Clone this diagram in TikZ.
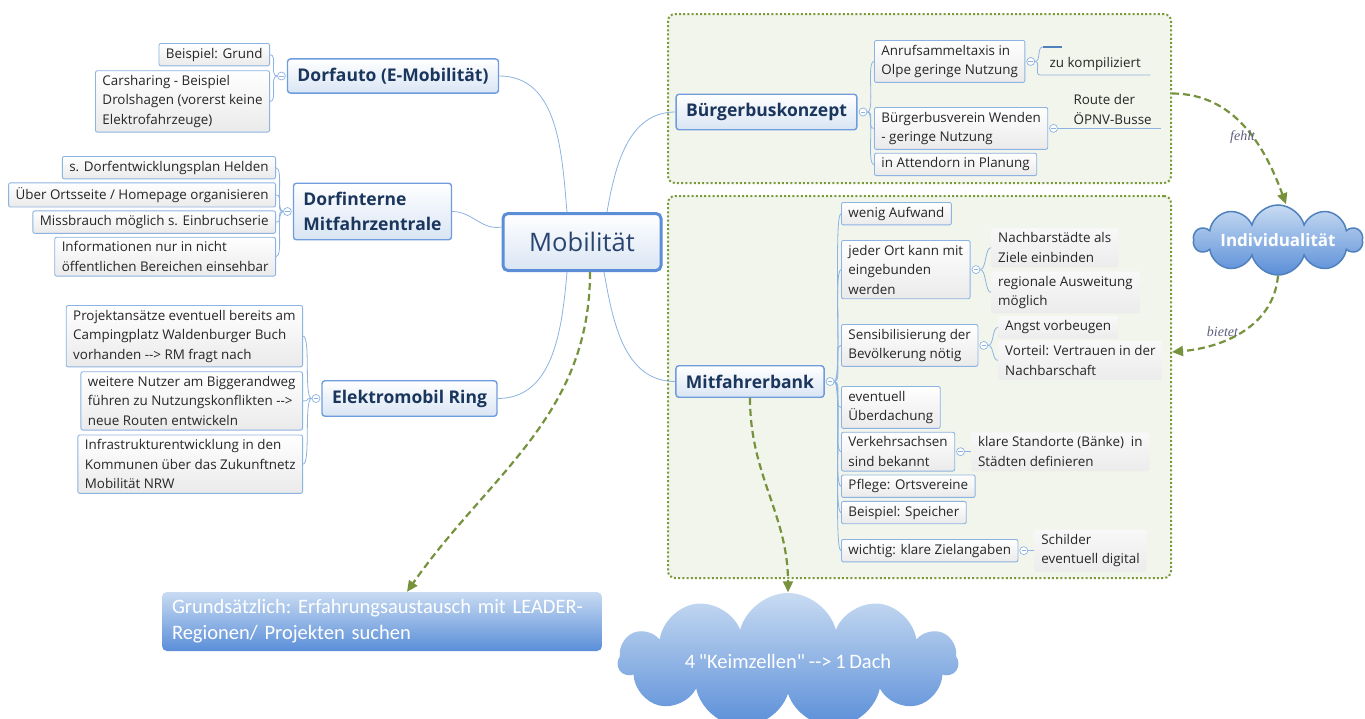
\documentclass[tikz,border=0pt]{standalone}
\usepackage{fontspec}
\setmainfont{Open Sans}
\newfontfamily\narrowfont[WordSpace=0.8]{Carlito}
\newfontfamily\notefont{Liberation Serif}
\usetikzlibrary{positioning, arrows.meta, shapes.symbols}

\definecolor{rootblue}{HTML}{5B8ED6}
\definecolor{roottext}{HTML}{2A4470}
\definecolor{topicblue}{HTML}{6E9CDC}
\definecolor{topictext}{HTML}{1B365D}
\definecolor{topicshade}{HTML}{D9E5F4}
\definecolor{leafblue}{HTML}{8DB3E2}
\definecolor{leafshade}{HTML}{EAEAEA}
\definecolor{leaftext}{HTML}{262626}
\definecolor{detailtop}{HTML}{F8F8F8}
\definecolor{detailbottom}{HTML}{ECECEC}
\definecolor{stubblue}{HTML}{4F81BD}
\definecolor{zonegreen}{HTML}{7A9A3A}
\definecolor{zonefill}{HTML}{F2F5EB}
\definecolor{arrowgreen}{HTML}{76923C}
\definecolor{skytop}{HTML}{C8DBF2}
\definecolor{skybottom}{HTML}{5A8ED8}
\definecolor{cloudline}{HTML}{4F81BD}
\definecolor{notegray}{HTML}{5E5E7E}

\begin{document}
\begin{tikzpicture}[
    x=1pt, y=-1pt,
    root/.style={rectangle, rounded corners=5pt, draw=rootblue, line width=3pt, top color=white, bottom color=topicshade, text=roottext, font=\fontsize{25.5}{30}\selectfont, minimum width=158pt, minimum height=57pt},
    topic/.style={rectangle, rounded corners=3pt, draw=topicblue, line width=1.4pt, top color=white, bottom color=topicshade, text=topictext, align=left, font=\fontsize{17.5}{25}\selectfont\bfseries, inner xsep=10pt, inner ysep=9pt},
    leaf/.style={rectangle, rounded corners=2pt, draw=leafblue, line width=0.9pt, top color=white, bottom color=leafshade, text=leaftext, align=left, font=\fontsize{13.4}{19.5}\selectfont, inner xsep=7pt, inner ysep=4.5pt},
    detail/.style={rectangle, rounded corners=2pt, top color=detailtop, bottom color=detailbottom, text=leaftext, align=left, font=\fontsize{13.4}{19.5}\selectfont, inner xsep=7pt, inner ysep=4.5pt},
    bare/.style={rectangle, text=leaftext, align=left, font=\fontsize{13.4}{19.5}\selectfont, inner xsep=9.5pt, inner ysep=4pt},
    stub/.style={rectangle, fill=stubblue, inner sep=0pt, minimum width=19pt, minimum height=2.5pt},
    knob/.style={circle, draw=leafblue, fill=white, line width=0.7pt, inner sep=0pt, minimum size=8pt,
        path picture={\draw[leafblue, line width=0.7pt] ([xshift=1.8pt]path picture bounding box.west) -- ([xshift=-1.8pt]path picture bounding box.east);}},
    zone/.style={rectangle, rounded corners=7pt, draw=zonegreen, line width=2pt, dash pattern=on 2pt off 2.2pt, fill=zonefill},
    cloudy/.style={cloud, cloud puffs=13, cloud ignores aspect, draw=cloudline, line width=1.5pt, top color=skytop, bottom color=skybottom, text=white, inner sep=0pt},
    banner/.style={rectangle, rounded corners=5pt, top color=skytop, bottom color=skybottom, text=white, align=left, font=\narrowfont\fontsize{20.5}{26}\selectfont\frenchspacing, text width=420pt, inner xsep=10pt, minimum height=59pt},
    branch/.style={draw=leafblue, line width=0.8pt},
    link/.style={draw=arrowgreen, line width=2.2pt, dash pattern=on 7pt off 4pt, -{Triangle[length=11pt, width=10pt]}},
    tag/.style={font=\notefont\itshape\fontsize{14}{16}\selectfont, text=notegray},
]
\path[use as bounding box, fill=white] (0,0) rectangle (1365,718);

%% NODES
    % green zones behind the right-hand branches
    \node[zone, minimum width=503pt, minimum height=169pt] (bus_zone) at (919.5,98.5) {};
    \node[zone, minimum width=503pt, minimum height=382pt] (bank_zone) at (919.5,387) {};

    % central topic
    \node[root] (mobil) at (582,242) {Mobilität};

    % Dorfauto
    \node[topic] (dorfauto) at (393,76) {Dorfauto (E-Mobilität)};
    \node[knob, left=1pt of dorfauto] (dorfauto_knob) {};
    \node[leaf, anchor=north east] (grund) at (270,43) {Beispiel: Grund};
    \node[leaf, below left=4pt and 0pt of grund.south east] (carsharing) {Carsharing - Beispiel\\Drolshagen (vorerst keine\\Elektrofahrzeuge)};

    % Dorfinterne Mitfahrzentrale
    \node[topic] (dorfintern) at (372.5,211.5) {Dorfinterne\\Mitfahrzentrale};
    \node[knob, left=1pt of dorfintern] (dorfintern_knob) {};
    \node[leaf, anchor=north east] (helden) at (276,156) {s. Dorfentwicklungsplan Helden};
    \node[leaf, below left=3pt and 0pt of helden.south east] (ortsseite) {Über Ortsseite / Homepage organisieren};
    \node[leaf, below left=3pt and 0pt of ortsseite.south east] (missbrauch) {Missbrauch möglich s. Einbruchserie};
    \node[leaf, below left=3pt and 0pt of missbrauch.south east] (bereiche) {Informationen nur in nicht\\öffentlichen Bereichen einsehbar};

    % Elektromobil Ring
    \node[topic] (ring) at (409.5,398.5) {Elektromobil Ring};
    \node[knob, left=1pt of ring] (ring_knob) {};
    \node[leaf, anchor=north east] (camping) at (303,305) {Projektansätze eventuell bereits am\\Campingplatz Waldenburger Buch\\vorhanden -{}-> RM fragt nach};
    \node[leaf, below left=4pt and 0pt of camping.south east] (biggerandweg) {weitere Nutzer am Biggerandweg\\führen zu Nutzungskonflikten -{}->\\neue Routen entwickeln};
    \node[leaf, below left=4pt and 0pt of biggerandweg.south east] (zukunftsnetz) {Infrastrukturentwicklung in den\\Kommunen über das Zukunftnetz\\Mobilität NRW};

    % Bürgerbuskonzept
    \node[topic] (buergerbus) at (766.5,112) {Bürgerbuskonzept};
    \node[knob, right=1pt of buergerbus] (buergerbus_knob) {};
    \node[leaf, anchor=north west] (anrufsammel) at (874,40) {Anrufsammeltaxis in\\Olpe geringe Nutzung};
    \node[knob, right=1pt of anrufsammel] (anrufsammel_knob) {};
    \node[stub] (leer) at (1052.5,47) {};
    \node[bare, anchor=south west] (kompliziert) at (1040,75) {zu kompiliziert};
    \node[leaf, anchor=north west] (wenden) at (874,107) {Bürgerbusverein Wenden\\- geringe Nutzung};
    \node[knob, right=1pt of wenden] (wenden_knob) {};
    \node[bare, right=6pt of wenden_knob, anchor=south west] (route) {Route der\\ÖPNV-Busse};
    \node[leaf, below right=3pt and 0pt of wenden.south west] (attendorn) {in Attendorn in Planung};

    % Mitfahrerbank
    \node[topic] (bank) at (750,381.5) {Mitfahrerbank};
    \node[knob, right=1pt of bank] (bank_knob) {};
    \node[leaf, anchor=north west] (aufwand) at (841,202) {wenig Aufwand};
    \node[leaf, anchor=north west] (jeder_ort) at (841,240) {jeder Ort kann mit\\eingebunden\\werden};
    \node[knob, right=1pt of jeder_ort] (jeder_ort_knob) {};
    \node[detail, anchor=north west] (nachbarstaedte) at (991,228) {Nachbarstädte als\\Ziele einbinden};
    \node[detail, below right=4pt and 0pt of nachbarstaedte.south west] (ausweitung) {regionale Ausweitung\\möglich};
    \node[leaf, anchor=north west] (sensibilisierung) at (841,324) {Sensibilisierung der\\Bevölkerung nötig};
    \node[knob, right=1pt of sensibilisierung] (sensibilisierung_knob) {};
    \node[detail, anchor=north west] (angst) at (998,316) {Angst vorbeugen};
    \node[detail, below right=2pt and 0pt of angst.south west] (vertrauen) {Vorteil: Vertrauen in der\\Nachbarschaft};
    \node[leaf, anchor=north west] (ueberdachung) at (841,386) {eventuell\\Überdachung};
    \node[leaf, below right=3pt and 0pt of ueberdachung.south west] (verkehrsachsen) {Verkehrsachsen\\sind bekannt};
    \node[knob, right=1pt of verkehrsachsen] (verkehrsachsen_knob) {};
    \node[detail, right=6pt of verkehrsachsen_knob] (standorte) {klare Standorte (Bänke)\ \ in\\Städten definieren};
    \node[leaf, below right=3pt and 0pt of verkehrsachsen.south west] (pflege) {Pflege: Ortsvereine};
    \node[leaf, below right=3pt and 0pt of pflege.south west] (speicher) {Beispiel: Speicher};
    \node[leaf, anchor=north west] (zielangaben) at (841,539) {wichtig: klare Zielangaben};
    \node[knob, right=1pt of zielangaben] (zielangaben_knob) {};
    \node[detail, right=6pt of zielangaben_knob] (schilder) {Schilder\\eventuell digital};

    % floating topics
    \node[cloudy, cloud puffs=10, font=\fontsize{17}{20}\selectfont\bfseries, minimum width=168pt, minimum height=70pt] (individ) at (1278,240) {Individualität};
    \node[cloudy, draw=none, cloud puffs=11, font=\narrowfont\fontsize{20.5}{22}\selectfont, minimum width=340pt, minimum height=136pt] (keimzellen) at (788,661) {4 "Keimzellen" -{}-> 1 Dach};
    \node[banner] (grundsatz) at (382,621.5) {Grundsätzlich: Erfahrungsaustausch mit LEADER-\\Regionen/ Projekten suchen};


%% CONNECTIONS
    % Mobilität -> main topics
    \draw[branch] ([xshift=-15pt]mobil.north) to[out=95, in=0] (dorfauto.east);
    \draw[branch] (dorfintern.east) to[out=0, in=190] ([yshift=15pt]mobil.west);
    \draw[branch] ([xshift=-15pt]mobil.south) to[out=-95, in=0] (ring.east);
    \draw[branch] ([xshift=25pt]mobil.north) to[out=80, in=180] (buergerbus.west);
    \draw[branch] ([xshift=22pt]mobil.south) to[out=-80, in=180] (bank.west);

    % left-hand brackets
    \draw[branch] (dorfauto_knob.west) .. controls +(-8,0) and +(8,0) .. (grund.east);
    \draw[branch] (dorfauto_knob.west) .. controls +(-8,0) and +(8,0) .. (carsharing.east);
    \draw[branch] (dorfintern_knob.west) .. controls +(-8,0) and +(8,0) .. (helden.east);
    \draw[branch] (dorfintern_knob.west) .. controls +(-8,0) and +(8,0) .. (ortsseite.east);
    \draw[branch] (dorfintern_knob.west) .. controls +(-8,0) and +(8,0) .. (missbrauch.east);
    \draw[branch] (dorfintern_knob.west) .. controls +(-8,0) and +(8,0) .. (bereiche.east);
    \draw[branch] (ring_knob.west) .. controls +(-8,0) and +(8,0) .. (camping.east);
    \draw[branch] (ring_knob.west) .. controls +(-8,0) and +(8,0) .. (biggerandweg.east);
    \draw[branch] (ring_knob.west) .. controls +(-8,0) and +(8,0) .. (zukunftsnetz.east);

    % Bürgerbuskonzept brackets
    \draw[branch] (buergerbus_knob.east) .. controls +(8,0) and +(-8,0) .. (anrufsammel.west);
    \draw[branch] (buergerbus_knob.east) .. controls +(8,0) and +(-8,0) .. (wenden.west);
    \draw[branch] (buergerbus_knob.east) .. controls +(8,0) and +(-8,0) .. (attendorn.west);
    \draw[branch] (anrufsammel_knob.east) .. controls +(6,0) and +(-6,0) .. (leer.west);
    \draw[branch] (anrufsammel_knob.east) .. controls +(6,0) and +(-6,0) .. (kompliziert.south west) -- (kompliziert.south east);
    \draw[branch] (wenden_knob.east) -- (route.south east);

    % Mitfahrerbank brackets
    \draw[branch] (bank_knob.east) .. controls +(8,0) and +(-8,0) .. (aufwand.west);
    \draw[branch] (bank_knob.east) .. controls +(8,0) and +(-8,0) .. (jeder_ort.west);
    \draw[branch] (bank_knob.east) .. controls +(8,0) and +(-8,0) .. (sensibilisierung.west);
    \draw[branch] (bank_knob.east) .. controls +(8,0) and +(-8,0) .. (ueberdachung.west);
    \draw[branch] (bank_knob.east) .. controls +(8,0) and +(-8,0) .. (verkehrsachsen.west);
    \draw[branch] (bank_knob.east) .. controls +(8,0) and +(-8,0) .. (pflege.west);
    \draw[branch] (bank_knob.east) .. controls +(8,0) and +(-8,0) .. (speicher.west);
    \draw[branch] (bank_knob.east) .. controls +(8,0) and +(-8,0) .. (zielangaben.west);
    \draw[branch] (jeder_ort_knob.east) .. controls +(6,0) and +(-6,0) .. (nachbarstaedte.west);
    \draw[branch] (jeder_ort_knob.east) .. controls +(6,0) and +(-6,0) .. (ausweitung.west);
    \draw[branch] (sensibilisierung_knob.east) .. controls +(6,0) and +(-6,0) .. (angst.west);
    \draw[branch] (sensibilisierung_knob.east) .. controls +(6,0) and +(-6,0) .. (vertrauen.west);
    \draw[branch] (verkehrsachsen_knob.east) -- (standorte.west);
    \draw[branch] (zielangaben_knob.east) -- (schilder.west);

    % dashed relations
    \draw[link] ([xshift=8pt]mobil.south) to[out=-90, in=55] ([xshift=25pt]grundsatz.north);
    \draw[link] (bank.south) to[out=-90, in=90] (keimzellen.north);
    \draw[link] ([yshift=5pt]bus_zone.east) to[out=0, in=110] node[tag, pos=0.58, xshift=-10pt] {fehlt} ([xshift=8pt]individ.north);
    \draw[link] (individ.south) to[out=-95, in=5] node[tag, pos=0.5, left] {bietet} ([yshift=35pt]bank_zone.east);

\end{tikzpicture}
\end{document}
